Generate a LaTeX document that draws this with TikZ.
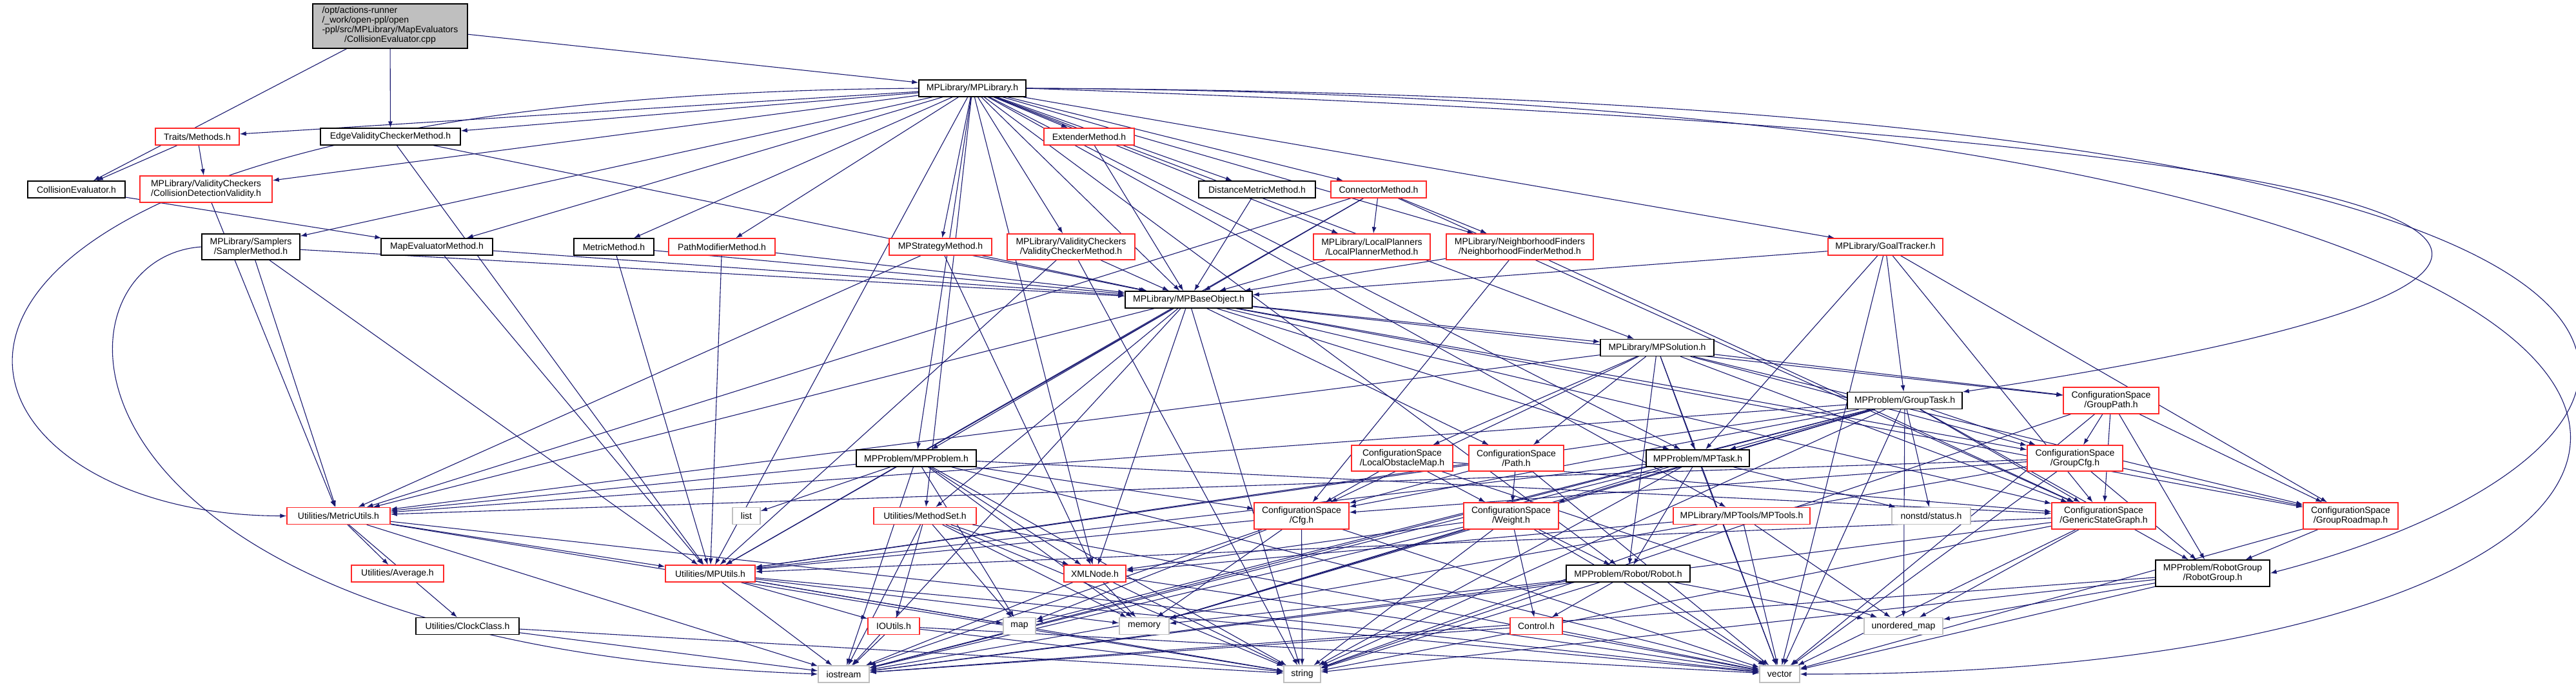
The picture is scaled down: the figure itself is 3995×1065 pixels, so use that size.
\documentclass[tikz,border=0pt]{standalone}
\usepackage{fontspec}
\setmainfont{Liberation Sans}
\usepackage{tikz}
\usetikzlibrary{
	arrows.meta,
	backgrounds,
	positioning
}
\definecolor{EdgeBlue}{RGB}{25,25,112}
\definecolor{TruncRed}{RGB}{255,40,40}
\definecolor{SysGray}{RGB}{191,191,191}

\tikzset{
	hdr/.style={draw=black, fill=white, line width=1.4pt, inner sep=0pt, minimum height=26pt, align=center, font=\fontsize{14}{15}\selectfont},
	hdrred/.style={hdr, draw=TruncRed},
	hdrsys/.style={hdr, draw=SysGray},
	srcfile/.style={hdr, fill=SysGray},
	incl/.style={-{Latex[length=10pt,width=7pt]}, draw=EdgeBlue, line width=1.1pt}
}

\begin{document}
\begin{tikzpicture}[x=1pt, y=1pt]
		\useasboundingbox (0,0) rectangle (3995,-1065);
		% row 1-4
		\node[srcfile, minimum width=240pt, minimum height=69pt] (root) at (605,-40.5) {\begin{tabular}{@{}l@{}}/opt/actions-runner\\/\_work/open-ppl/open\\-ppl/src/MPLibrary/MapEvaluators\\\multicolumn{1}{@{}c@{}}{/CollisionEvaluator.cpp}\end{tabular}};
		\node[hdr, minimum width=166pt] (mplib) at (1508,-137) {MPLibrary/MPLibrary.h};
		\node[hdrred, minimum width=130pt] (traits) at (306,-212) {Traits/Methods.h};
		\node[hdr, minimum width=217pt] (edgevc) at (605.5,-212) {EdgeValidityCheckerMethod.h};
		\node[hdrred, minimum width=140pt] (extender) at (1689,-212) {ExtenderMethod.h};
		\node[hdr, minimum width=151pt] (colleval) at (118.5,-294) {CollisionEvaluator.h};
		\node[hdrred, minimum width=205pt, minimum height=41pt] (cdvalid) at (319.5,-293.5) {MPLibrary/ValidityCheckers\\/CollisionDetectionValidity.h};
		\node[hdr, minimum width=181pt] (distmetric) at (1949.5,-294) {DistanceMetricMethod.h};
		\node[hdrred, minimum width=148pt] (connector) at (2138,-294) {ConnectorMethod.h};
		% method headers
		\node[hdr, minimum width=152pt, minimum height=40pt] (sampler) at (389,-383) {MPLibrary/Samplers\\/SamplerMethod.h};
		\node[hdr, minimum width=173pt] (mapeval) at (677.5,-383) {MapEvaluatorMethod.h};
		\node[hdr, minimum width=124pt] (metric) at (952,-383) {MetricMethod.h};
		\node[hdrred, minimum width=165pt] (pathmod) at (1119.5,-383) {PathModifierMethod.h};
		\node[hdrred, minimum width=159pt] (strategy) at (1458.5,-383) {MPStrategyMethod.h};
		\node[hdrred, minimum width=198pt, minimum height=40pt] (vcmethod) at (1661,-383) {MPLibrary/ValidityCheckers\\/ValidityCheckerMethod.h};
		\node[hdrred, minimum width=181pt, minimum height=40pt] (lplanner) at (2127.5,-383) {MPLibrary/LocalPlanners\\/LocalPlannerMethod.h};
		\node[hdrred, minimum width=228pt, minimum height=40pt] (nfinder) at (2357,-383) {MPLibrary/NeighborhoodFinders\\/NeighborhoodFinderMethod.h};
		\node[hdrred, minimum width=178pt] (goaltrack) at (2924,-383) {MPLibrary/GoalTracker.h};
		% core
		\node[hdr, minimum width=197pt] (baseobj) at (1843.5,-465) {MPLibrary/MPBaseObject.h};
		\node[hdr, minimum width=176pt] (solution) at (2570,-539.5) {MPLibrary/MPSolution.h};
		\node[hdr, minimum width=178pt] (grouptask) at (2954,-621.5) {MPProblem/GroupTask.h};
		\node[hdrred, minimum width=148pt, minimum height=41pt] (grouppath) at (3274,-621.5) {ConfigurationSpace\\/GroupPath.h};
		\node[hdr, minimum width=186pt] (problem) at (1421,-711) {MPProblem/MPProblem.h};
		\node[hdrred, minimum width=157pt, minimum height=40pt] (lobsmap) at (2174.5,-711) {ConfigurationSpace\\/LocalObstacleMap.h};
		\node[hdrred, minimum width=147pt, minimum height=40pt] (cspath) at (2351.5,-711) {ConfigurationSpace\\/Path.h};
		\node[hdr, minimum width=160pt] (task) at (2633,-711) {MPProblem/MPTask.h};
		\node[hdrred, minimum width=148pt, minimum height=40pt] (groupcfg) at (3218,-711) {ConfigurationSpace\\/GroupCfg.h};
		% utilities and configuration space
		\node[hdrred, minimum width=160pt] (metricutils) at (525,-800.5) {Utilities/MetricUtils.h};
		\node[hdrsys, minimum width=43pt] (stdlist) at (1157.5,-800.5) {list};
		\node[hdrred, minimum width=159pt] (methodset) at (1434.5,-800.5) {Utilities/MethodSet.h};
		\node[hdrred, minimum width=147pt, minimum height=41pt] (cfg) at (2018.5,-800.5) {ConfigurationSpace\\/Cfg.h};
		\node[hdrred, minimum width=147pt, minimum height=41pt] (weight) at (2343.5,-800.5) {ConfigurationSpace\\/Weight.h};
		\node[hdrred, minimum width=212pt] (mptools) at (2701,-800.5) {MPLibrary/MPTools/MPTools.h};
		\node[hdrsys, minimum width=122pt] (status) at (2995,-800.5) {nonstd/status.h};
		\node[hdrred, minimum width=161pt, minimum height=41pt] (gsgraph) at (3262.5,-800.5) {ConfigurationSpace\\/GenericStateGraph.h};
		\node[hdrred, minimum width=147pt, minimum height=41pt] (grouprm) at (3645.5,-800.5) {ConfigurationSpace\\/GroupRoadmap.h};
		\node[hdrred, minimum width=143pt] (average) at (616.5,-890) {Utilities/Average.h};
		\node[hdrred, minimum width=139pt] (mputils) at (1101.5,-890) {Utilities/MPUtils.h};
		\node[hdrred, minimum width=96pt] (xmlnode) at (1698,-890) {XMLNode.h};
		\node[hdr, minimum width=192pt] (robot) at (2525,-890) {MPProblem/Robot/Robot.h};
		\node[hdr, minimum width=177pt, minimum height=41pt] (robotgroup) at (3431.5,-889.5) {MPProblem/RobotGroup\\/RobotGroup.h};
		\node[hdr, minimum width=160pt] (clock) at (725,-971.5) {Utilities/ClockClass.h};
		\node[hdrred, minimum width=80pt] (ioutils) at (1386,-971.5) {IOUtils.h};
		\node[hdrsys, minimum width=50pt] (stdmap) at (1581,-971.5) {map};
		\node[hdrsys, minimum width=77pt] (stdmemory) at (1774.5,-971.5) {memory};
		\node[hdrred, minimum width=81pt] (control) at (2382.5,-971.5) {Control.h};
		\node[hdrsys, minimum width=122pt] (stdumap) at (2952,-971.5) {unordered\_map};
		\node[hdrsys, minimum width=79pt] (stdiostream) at (1308.5,-1046) {iostream};
		\node[hdrsys, minimum width=57pt] (stdstring) at (2019.5,-1046) {string};
		\node[hdrsys, minimum width=62pt] (stdvector) at (2760,-1046) {vector};

		\begin{scope}[on background layer]
		% source file
		\draw[incl] (root) -- (colleval);
		\draw[incl] (root) -- (edgevc);
		\draw[incl] (root) -- (mplib);
		% MPLibrary.h
		\draw[incl] (mplib) -- (traits);
		\draw[incl] (mplib) -- (edgevc);
		\draw[incl] (mplib) -- (cdvalid);
		\draw[incl] (mplib) -- (extender);
		\draw[incl] (mplib) -- (distmetric);
		\draw[incl] (mplib) -- (connector);
		\draw[incl] (mplib) -- (sampler);
		\draw[incl] (mplib) -- (mapeval);
		\draw[incl] (mplib) -- (metric);
		\draw[incl] (mplib) -- (pathmod);
		\draw[incl] (mplib) -- (strategy);
		\draw[incl] (mplib) -- (vcmethod);
		\draw[incl] (mplib) -- (lplanner);
		\draw[incl] (mplib) -- (nfinder);
		\draw[incl] (mplib) -- (goaltrack);
		\draw[incl] (mplib) -- (baseobj);
		\draw[incl] (mplib) -- (solution);
		\draw[incl] (mplib) -- (task);
		\draw[incl] (mplib) -- (problem);
		\draw[incl] (mplib) -- (methodset);
		\draw[incl] (mplib) -- (mputils);
		\draw[incl] (mplib) -- (xmlnode);
		\draw[incl] (mplib) -- (mptools);
		\draw[incl] (mplib) -- (robot);
		\draw[incl] (mplib.west) .. controls (-350,-150) and (-150,-800) .. (metricutils.west);
		\draw[incl] (mplib.east) .. controls (4300,-230) and (4100,-450) .. (grouptask);
		\draw[incl] (mplib.east) .. controls (4500,-150) and (4250,-700) .. (robotgroup.east);
		\draw[incl] (mplib.east) .. controls (4600,-150) and (4500,-1050) .. (stdvector.east);
		% first level headers
		\draw[incl] (traits) -- (colleval);
		\draw[incl] (traits) -- (cdvalid);
		\draw[incl] (colleval) -- (mapeval);
		\draw[incl] (cdvalid) -- (metricutils);
		\draw[incl] (edgevc) -- (baseobj);
		\draw[incl] (edgevc) -- (mputils);
		\draw[incl] (extender) -- (baseobj);
		\draw[incl] (distmetric) -- (baseobj);
		\draw[incl] (connector) -- (baseobj);
		\draw[incl] (connector) -- (lplanner);
		\draw[incl] (connector) -- (nfinder);
		\draw[incl] (connector) -- (metricutils);
		\draw[incl] (connector) -- (mputils);
		\draw[incl] (connector) -- (gsgraph);
		% method headers
		\draw[incl] (sampler) -- (baseobj);
		\draw[incl] (sampler) -- (metricutils);
		\draw[incl] (sampler) -- (mputils);
		\draw[incl] (sampler.west) .. controls (60,-400) and (40,-1000) .. (stdiostream.west);
		\draw[incl] (mapeval) -- (baseobj);
		\draw[incl] (mapeval) -- (mputils);
		\draw[incl] (metric) -- (baseobj);
		\draw[incl] (metric) -- (mputils);
		\draw[incl] (pathmod) -- (baseobj);
		\draw[incl] (pathmod) -- (mputils);
		\draw[incl] (strategy) -- (baseobj);
		\draw[incl] (strategy) -- (metricutils);
		\draw[incl] (strategy) -- (xmlnode);
		\draw[incl] (vcmethod) -- (baseobj);
		\draw[incl] (vcmethod) -- (mputils);
		\draw[incl] (vcmethod) -- (stdstring);
		\draw[incl] (lplanner) -- (baseobj);
		\draw[incl] (nfinder) -- (baseobj);
		\draw[incl] (nfinder) -- (cfg);
		\draw[incl] (nfinder) -- (gsgraph);
		\draw[incl] (goaltrack) -- (baseobj);
		\draw[incl] (goaltrack) -- (grouptask);
		\draw[incl] (goaltrack) -- (task);
		\draw[incl] (goaltrack) -- (gsgraph);
		\draw[incl] (goaltrack) -- (grouprm);
		\draw[incl] (goaltrack) -- (stdvector);
		% MPBaseObject.h
		\draw[incl] (baseobj) -- (solution);
		\draw[incl] (baseobj) -- (problem);
		\draw[incl] (baseobj) -- (methodset);
		\draw[incl] (baseobj) -- (mputils);
		\draw[incl] (baseobj) -- (xmlnode);
		\draw[incl] (baseobj) -- (metricutils);
		\draw[incl] (baseobj) -- (stdiostream);
		\draw[incl] (baseobj) -- (stdstring);
		\draw[incl] (baseobj) -- (cspath);
		\draw[incl] (baseobj) -- (grouppath);
		\draw[incl] (baseobj) -- (groupcfg);
		\draw[incl] (baseobj) -- (gsgraph);
		\draw[incl] (baseobj) -- (grouprm);
		\draw[incl] (baseobj) -- (task);
		% MPSolution.h
		\draw[incl] (solution) -- (lobsmap);
		\draw[incl] (solution) -- (cspath);
		\draw[incl] (solution) -- (cfg);
		\draw[incl] (solution) -- (robot);
		\draw[incl] (solution) -- (grouppath);
		\draw[incl] (solution) -- (groupcfg);
		\draw[incl] (solution) -- (gsgraph);
		\draw[incl] (solution) -- (grouprm);
		\draw[incl] (solution) -- (task);
		\draw[incl] (solution) -- (metricutils);
		\draw[incl] (solution) -- (stdvector);
		% GroupTask.h and GroupPath.h
		\draw[incl] (grouptask) -- (task);
		\draw[incl] (grouptask) -- (groupcfg);
		\draw[incl] (grouptask) -- (gsgraph);
		\draw[incl] (grouptask) -- (status);
		\draw[incl] (grouptask) -- (stdumap);
		\draw[incl] (grouptask) -- (stdvector);
		\draw[incl] (grouptask) -- (stdstring);
		\draw[incl] (grouptask) -- (stdiostream);
		\draw[incl] (grouptask) -- (stdmemory);
		\draw[incl] (grouptask) -- (stdmap);
		\draw[incl] (grouptask) -- (cfg);
		\draw[incl] (grouptask) -- (weight);
		\draw[incl] (grouptask) -- (mputils);
		\draw[incl] (grouptask) -- (robotgroup);
		\draw[incl] (grouptask) -- (metricutils);
		\draw[incl] (grouppath) -- (groupcfg);
		\draw[incl] (grouppath) -- (gsgraph);
		\draw[incl] (grouppath) -- (grouprm);
		\draw[incl] (grouppath) -- (robotgroup);
		\draw[incl] (grouppath) -- (stdvector);
		\draw[incl] (grouppath) -- (stdstring);
		% MPProblem.h
		\draw[incl] (problem) -- (stdlist);
		\draw[incl] (problem) -- (metricutils);
		\draw[incl] (problem) -- (cfg);
		\draw[incl] (problem) -- (xmlnode);
		\draw[incl] (problem) -- (stdmap);
		\draw[incl] (problem) -- (stdmemory);
		\draw[incl] (problem) -- (stdstring);
		\draw[incl] (problem) -- (stdiostream);
		\draw[incl] (problem) -- (stdvector);
		\draw[incl] (problem) -- (gsgraph);
		% configuration space
		\draw[incl] (lobsmap) -- (cfg);
		\draw[incl] (lobsmap) -- (weight);
		\draw[incl] (lobsmap) -- (gsgraph);
		\draw[incl] (lobsmap) -- (stdumap);
		\draw[incl] (cspath) -- (cfg);
		\draw[incl] (cspath) -- (weight);
		\draw[incl] (cspath) -- (mputils);
		\draw[incl] (cspath) -- (stdvector);
		\draw[incl] (task) -- (mputils);
		\draw[incl] (task) -- (stdiostream);
		\draw[incl] (task) -- (stdstring);
		\draw[incl] (task) -- (stdmemory);
		\draw[incl] (task) -- (stdvector);
		\draw[incl] (task) -- (status);
		\draw[incl] (task) -- (robot);
		\draw[incl] (groupcfg) -- (cfg);
		\draw[incl] (groupcfg) -- (metricutils);
		\draw[incl] (groupcfg) -- (grouprm);
		\draw[incl] (groupcfg) -- (robotgroup);
		\draw[incl] (groupcfg) -- (stdvector);
		\draw[incl] (groupcfg) -- (stdiostream);
		% utilities
		\draw[incl] (metricutils) -- (average);
		\draw[incl] (metricutils) -- (mputils);
		\draw[incl] (metricutils) -- (clock);
		\draw[incl] (metricutils) -- (stdiostream);
		\draw[incl] (metricutils) -- (stdstring);
		\draw[incl] (metricutils) -- (stdvector);
		\draw[incl] (methodset) -- (xmlnode);
		\draw[incl] (methodset) -- (ioutils);
		\draw[incl] (methodset) -- (stdmap);
		\draw[incl] (methodset) -- (stdmemory);
		\draw[incl] (methodset) -- (stdiostream);
		\draw[incl] (methodset) -- (stdstring);
		\draw[incl] (methodset) -- (stdvector);
		\draw[incl] (cfg) -- (mputils);
		\draw[incl] (cfg) -- (stdmap);
		\draw[incl] (cfg) -- (stdmemory);
		\draw[incl] (cfg) -- (stdiostream);
		\draw[incl] (cfg) -- (stdstring);
		\draw[incl] (cfg) -- (stdvector);
		\draw[incl] (weight) -- (xmlnode);
		\draw[incl] (weight) -- (robot);
		\draw[incl] (weight) -- (control);
		\draw[incl] (weight) -- (stdiostream);
		\draw[incl] (weight) -- (stdstring);
		\draw[incl] (weight) -- (stdmemory);
		\draw[incl] (weight) -- (stdvector);
		\draw[incl] (mptools) -- (xmlnode);
		\draw[incl] (mptools) -- (stdumap);
		\draw[incl] (mptools) -- (stdvector);
		\draw[incl] (mptools) -- (stdstring);
		\draw[incl] (gsgraph) -- (mputils);
		\draw[incl] (gsgraph) -- (stdumap);
		\draw[incl] (gsgraph) -- (stdvector);
		\draw[incl] (gsgraph) -- (stdstring);
		\draw[incl] (gsgraph) -- (stdiostream);
		\draw[incl] (grouprm) -- (robotgroup);
		\draw[incl] (grouprm) -- (stdvector);
		\draw[incl] (mputils) -- (ioutils);
		\draw[incl] (mputils) -- (stdmap);
		\draw[incl] (mputils) -- (stdmemory);
		\draw[incl] (mputils) -- (stdiostream);
		\draw[incl] (mputils) -- (stdstring);
		\draw[incl] (mputils) -- (stdvector);
		\draw[incl] (xmlnode) -- (stdmemory);
		\draw[incl] (xmlnode) -- (stdstring);
		\draw[incl] (xmlnode) -- (stdiostream);
		\draw[incl] (xmlnode) -- (stdvector);
		\draw[incl] (robot) -- (control);
		\draw[incl] (robot) -- (stdumap);
		\draw[incl] (robot) -- (stdmemory);
		\draw[incl] (robot) -- (stdiostream);
		\draw[incl] (robot) -- (stdstring);
		\draw[incl] (robot) -- (stdvector);
		\draw[incl] (robotgroup) -- (stdumap);
		\draw[incl] (robotgroup) -- (stdvector);
		\draw[incl] (robotgroup) -- (stdstring);
		\draw[incl] (robotgroup) -- (stdiostream);
		\draw[incl] (clock) -- (stdiostream);
		\draw[incl] (clock) -- (stdstring);
		\draw[incl] (ioutils) -- (stdiostream);
		\draw[incl] (ioutils) -- (stdstring);
		\draw[incl] (ioutils) -- (stdvector);
		\draw[incl] (control) -- (stdiostream);
		\draw[incl] (control) -- (stdvector);
		\end{scope}
	\end{tikzpicture}
\end{document}
